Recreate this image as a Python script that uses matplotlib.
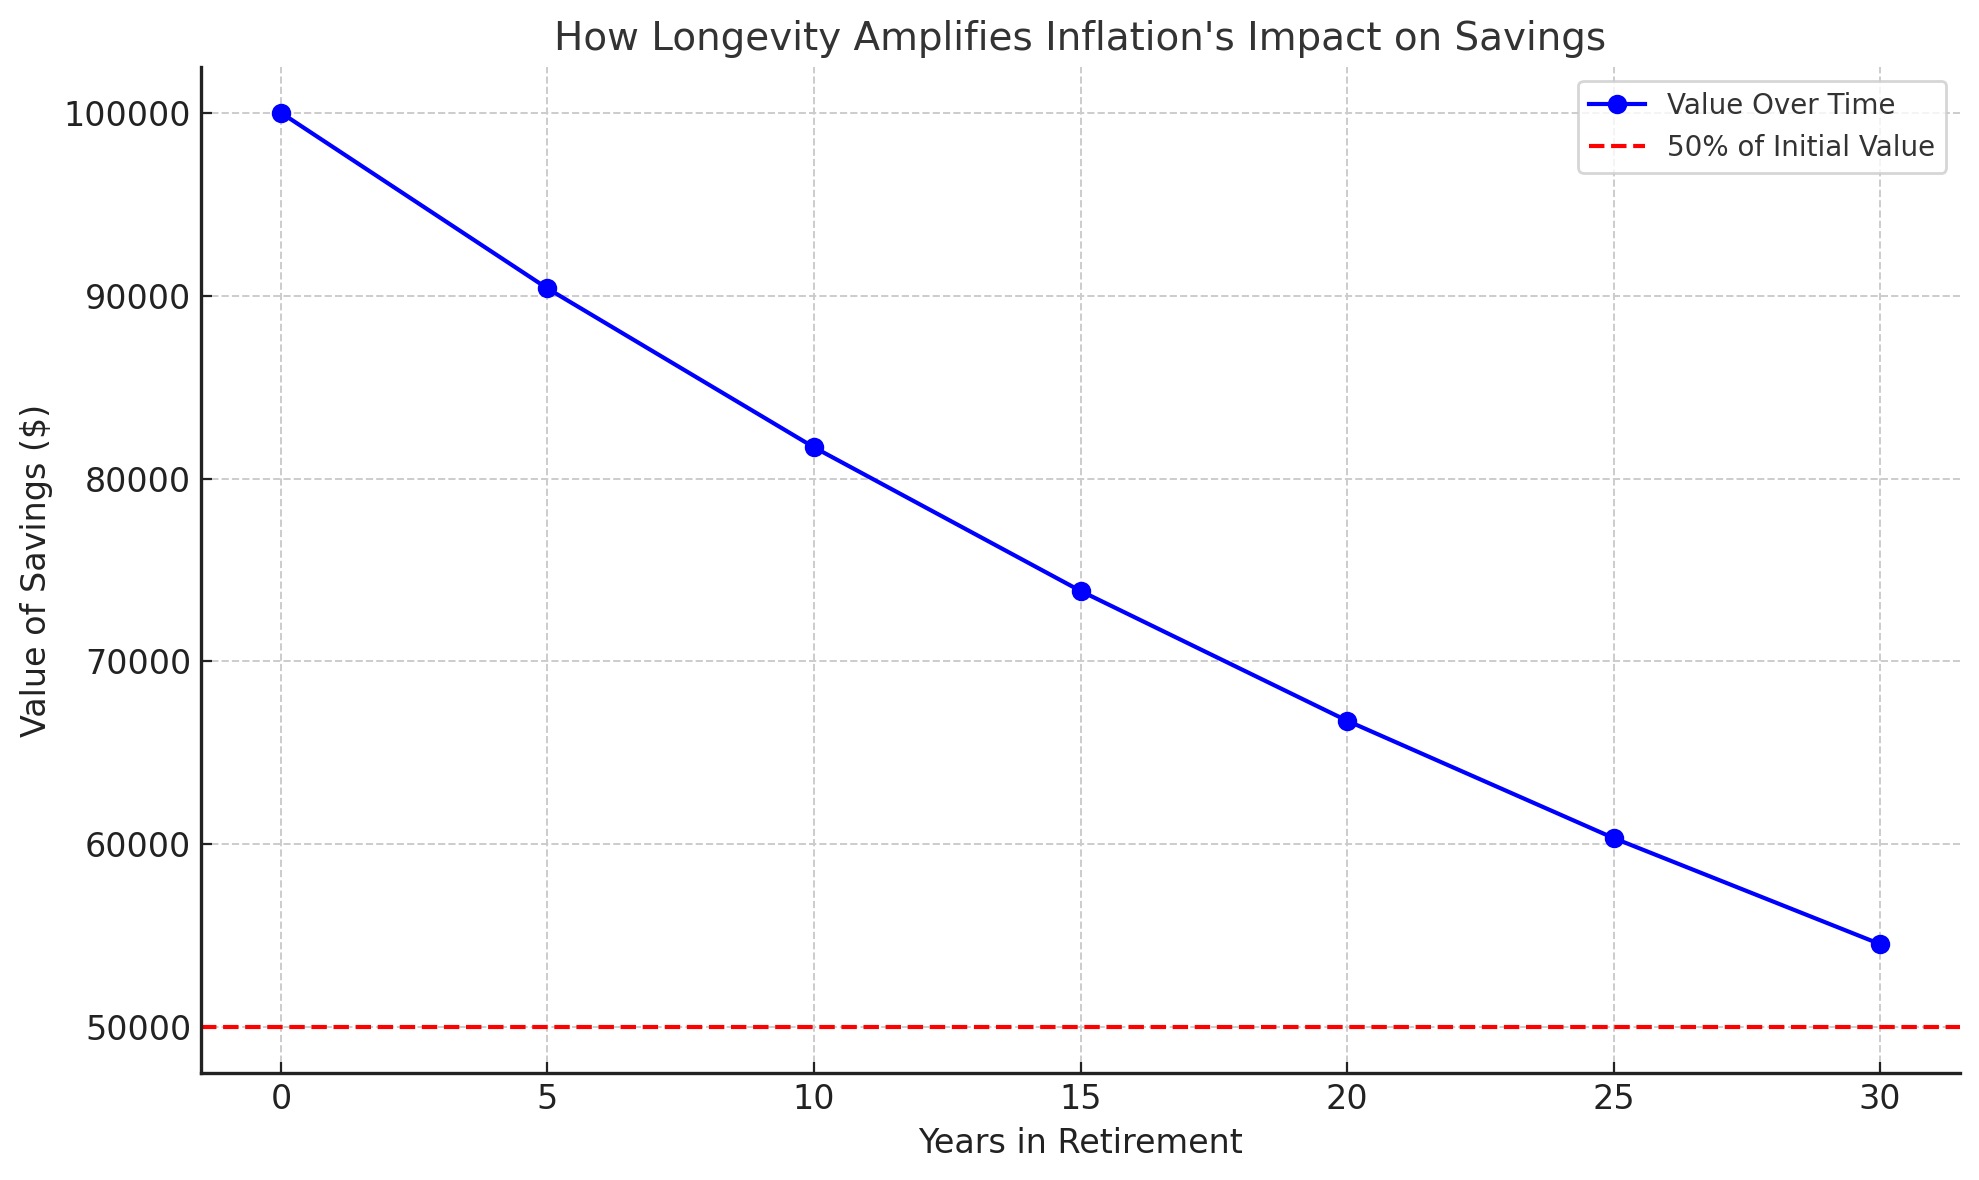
import matplotlib
matplotlib.use("Agg")
import matplotlib.pyplot as plt

years = [0, 5, 10, 15, 20, 25, 30]
values = [100000, 90392, 81707, 73857, 66761, 60346, 54548]
threshold = 50000

title = "How Longevity Amplifies Inflation's Impact on Savings"
xlabel = "Years in Retirement"
ylabel = "Value of Savings ($)"
series_label = "Value Over Time"
threshold_label = "50% of Initial Value"

plt.rcParams['font.family'] = ['DejaVu Sans']

fig = plt.figure(figsize=(1979/200, 1180/200), dpi=200)
ax = fig.add_axes([201/1979, 1 - 1073/1180, (1960-201)/1979, (1073-67)/1180])

ax.plot(years, values, marker='o', color='blue', linewidth=1.5, markersize=6, label=series_label)
ax.axhline(threshold, color='red', linestyle='--', linewidth=1.5, label=threshold_label)

ax.set_title(title, fontsize=14, color='#333333')
ax.set_xlabel(xlabel, fontsize=12, color='#222222')
ax.set_ylabel(ylabel, fontsize=12, color='#222222')
ax.tick_params(axis='both', labelsize=12, direction='in', colors='#222222', length=4)

ax.grid(True, linestyle='--', color='#cccccc', linewidth=0.7)
ax.set_axisbelow(True)
for s in ['top', 'right']:
    ax.spines[s].set_visible(False)
for s in ['left', 'bottom']:
    ax.spines[s].set_color('#222222')
    ax.spines[s].set_linewidth(1.2)

leg = ax.legend(loc='upper right', fontsize=10, frameon=True, fancybox=True)
leg.get_frame().set_edgecolor('#cccccc')
for t in leg.get_texts():
    t.set_color('#333333')

fig.savefig("out.png", dpi=200)
